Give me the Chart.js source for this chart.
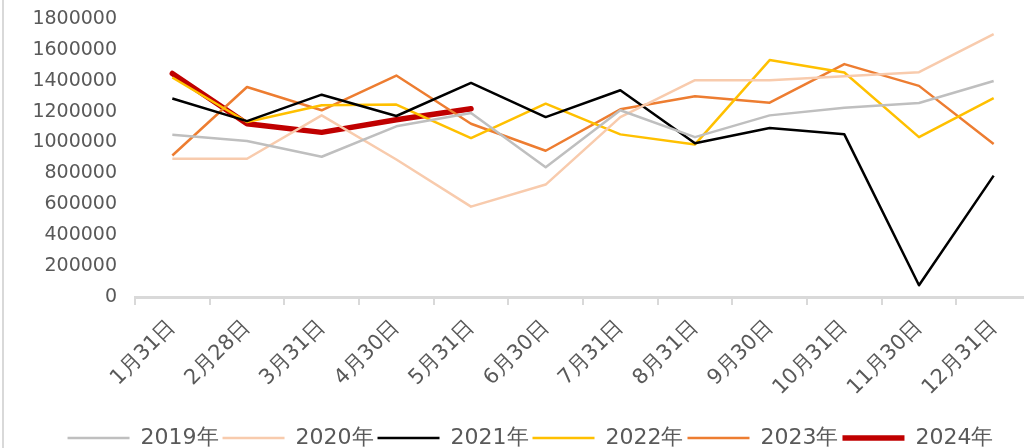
<!DOCTYPE html>
<html>
<head>
<meta charset="utf-8">
<script src="https://cdn.jsdelivr.net/npm/chart.js@4/dist/chart.umd.min.js"></script>
<style>
html,body{margin:0;padding:0;background:#fff;overflow:hidden;}
#wrap{width:1031px;height:448px;position:relative;}
</style>
</head>
<body>
<div id="wrap"><canvas id="c" width="1031" height="448"></canvas></div>
<script>
const categories = ['1月31日','2月28日','3月31日','4月30日','5月31日','6月30日','7月31日','8月31日','9月30日','10月31日','11月30日','12月31日'];
const yTicks = [0,200000,400000,600000,800000,1000000,1200000,1400000,1600000,1800000];
const s2019 = [1050000,1010000,908000,1105000,1192000,840000,1209000,1035000,1176000,1226000,1256000,1399000];
const s2020 = [895000,895000,1176000,890000,585000,728000,1165000,1404000,1404000,1430000,1456000,1702000];
const s2021 = [1285000,1139000,1310000,1172000,1386000,1165000,1339000,996000,1094000,1053000,76000,786000];
const s2022 = [1421000,1133000,1241000,1246000,1029000,1252000,1053000,988000,1534000,1454000,1035000,1287000];
const s2023 = [916000,1360000,1209000,1434000,1122000,947000,1215000,1300000,1258000,1508000,1367000,990000];
const s2024 = [1447000,1122000,1066000,1148000,1219000,null,null,null,null,null,null,null];
const seriesNames = ['2019年','2020年','2021年','2022年','2023年','2024年'];

const colors = ['#bfbfbf','#f8cbad','#000000','#ffc000','#ed7d31','#c00000'];
const widths = [2.5,2.5,2.5,2.5,2.5,5.5];
const allSeries = [s2019,s2020,s2021,s2022,s2023,s2024];

const datasets = allSeries.map((d,i)=>({
  label: seriesNames[i],
  data: d,
  borderColor: colors[i],
  backgroundColor: colors[i],
  borderWidth: widths[i],
  borderCapStyle: i===5 ? 'round' : 'butt',
  borderJoinStyle: 'round',
  pointRadius: 0,
  pointHoverRadius: 0,
  tension: 0,
  spanGaps: false
}));

const leftBorder = {
  id:'leftBorder',
  beforeDraw(chart){
    const ctx = chart.ctx;
    ctx.save();
    ctx.strokeStyle = '#d9d9d9';
    ctx.lineWidth = 2;
    ctx.beginPath();
    ctx.moveTo(3,0);
    ctx.lineTo(3,448);
    ctx.stroke();
    ctx.restore();
  }
};

const legendShift = {
  id:'legendShift',
  afterLayout(chart){
    if (chart.legend){ chart.legend.left += 15; chart.legend.right += 15; }
  }
};

new Chart(document.getElementById('c'), {
  type:'line',
  data:{labels:categories, datasets},
  plugins:[leftBorder, legendShift],
  options:{
    responsive:false,
    animation:false,
    layout:{padding:{top:0,left:0,right:0,bottom:-11}},
    plugins:{
      tooltip:{enabled:false},
      legend:{
        position:'bottom',
        labels:{
          usePointStyle:true,
          pointStyle:'line',
          pointStyleWidth:62,
          padding:4,
          color:'#595959',
          font:{family:'DejaVu Sans', size:22}
        }
      }
    },
    scales:{
      x:{
        type:'category',
        offset:true,
        grid:{display:true, offset:true, drawOnChartArea:false, drawTicks:true, tickLength:8, color:'#d9d9d9', lineWidth:2},
        border:{display:true, color:'#d9d9d9', width:3},
        ticks:{maxRotation:45, minRotation:45, autoSkip:false, padding:10, color:'#595959', font:{family:'DejaVu Sans', size:21}},
        afterFit(scale){ scale.height = 126; }
      },
      y:{
        min:0, max:1800000,
        afterBuildTicks(scale){ scale.ticks = yTicks.map(v=>({value:v})); },
        grid:{display:false, drawTicks:false},
        border:{display:false},
        ticks:{padding:18, color:'#595959', font:{family:'DejaVu Sans', size:19}, callback:(v)=>String(v)},
        afterFit(scale){ scale.width = 135; scale.paddingTop = 19; scale.paddingBottom = 0; }
      }
    }
  }
});
</script>
</body>
</html>
